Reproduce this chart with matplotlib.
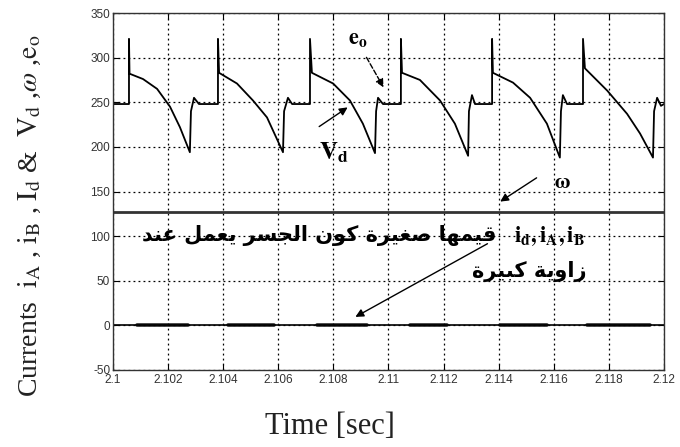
import matplotlib.pyplot as plt

plt.rcParams['mathtext.fontset'] = 'stix'
plt.rcParams['axes.unicode_minus'] = False

# Vd / eo trace (time [s], value)
t_v = [2.10000, 2.10058, 2.10058, 2.10060, 2.10109, 2.10160, 2.10207, 2.10243, 2.10279,
       2.10283, 2.10294, 2.10312, 2.10381,
       2.10381, 2.10385, 2.10450, 2.10508, 2.10559, 2.10617, 2.10621, 2.10635, 2.10650, 2.10715,
       2.10715, 2.10722, 2.10799, 2.10860, 2.10907, 2.10951, 2.10955, 2.10962, 2.10980, 2.11045,
       2.11045, 2.11049, 2.11114, 2.11187, 2.11241, 2.11289, 2.11292, 2.11303, 2.11314, 2.11376,
       2.11376, 2.11379, 2.11452, 2.11514, 2.11575, 2.11622, 2.11626, 2.11633, 2.11648, 2.11706,
       2.11706, 2.11713, 2.11794, 2.11866, 2.11913, 2.11960, 2.11964, 2.11975, 2.11989, 2.12000]
v = [248, 248, 321, 282, 276, 265, 245, 222, 194,
     240, 255, 248, 248,
     321, 283, 271, 252, 233, 194, 240, 255, 248, 248,
     321, 283, 271, 252, 226, 193, 240, 255, 248, 248,
     321, 283, 275, 252, 226, 190, 240, 258, 248, 248,
     321, 283, 272, 255, 226, 188, 240, 258, 248, 248,
     321, 288, 263, 237, 215, 188, 240, 255, 246, 248]

# speed line
omega = 127

# currents: flat zero with small ripple bursts
burst_start = [2.10087, 2.10417, 2.10740, 2.11078, 2.11405, 2.11720]
burst_end = [2.10272, 2.10584, 2.10922, 2.11212, 2.11575, 2.11949]

xticks = [2.1, 2.102, 2.104, 2.106, 2.108, 2.11, 2.112, 2.114, 2.116, 2.118, 2.12]
xlabels = ['2.1', '2.102', '2.104', '2.106', '2.108', '2.11', '2.112', '2.114', '2.116', '2.118', '2.12']
yticks = [-50, 0, 50, 100, 150, 200, 250, 300, 350]

# Arabic text in visual order (presentation forms), logical text:
# "قيمها صغيرة كون الجسر يعمل عند" / "زاوية كبيرة"
ar_line1 = ('\ufeaa\ufee8\ufecb \ufede\ufee4\ufecc\ufef3 \ufeae\ufeb4\ufea0\ufedf\ufe8d '
            '\ufee5\ufeee\ufedb \ufe93\ufeae\ufef4\ufed0\ufebb \ufe8e\ufeec\ufee4\ufef4\ufed7')
ar_line2 = '\ufe93\ufeae\ufef4\ufe92\ufedb \ufe94\ufef3\ufeed\ufe8d\ufeaf'

fig = plt.figure(figsize=(6.8, 4.47), dpi=100)
ax = fig.add_axes([113/680, 1 - 370/447, 551/680, 357/447])

ax.plot(t_v, v, color='black', lw=1.3)
ax.axhline(omega, color='#333333', lw=2.0)
ax.plot([2.1, 2.12], [0, 0], color='black', lw=1.2)
for s, e in zip(burst_start, burst_end):
    ax.plot([s, e], [0, 0], color='black', lw=2.6, alpha=0.85, solid_capstyle='round')

ax.set_xlim(2.1, 2.12)
ax.set_ylim(-50, 350)
ax.set_xticks(xticks)
ax.set_xticklabels(xlabels)
ax.set_yticks(yticks)
ax.grid(True, color='black', lw=0.9, linestyle=(0, (1.5, 2.5)))
ax.tick_params(direction='in', length=4, top=True, right=True,
               labelsize=8.5, labelcolor='#333333')
ax.tick_params(axis='x', pad=3)
ax.tick_params(axis='y', pad=2)
for lab in ax.get_xticklabels() + ax.get_yticklabels():
    lab.set_family('Liberation Sans')
for sp in ax.spines.values():
    sp.set_color('#333333')
    sp.set_linewidth(1.0)

# annotations
ax.text(2.1089, 320, r'$\mathbf{e_o}$', fontsize=16, ha='center', va='center')
ax.annotate('', xy=(2.10987, 264), xytext=(2.10915, 303),
            arrowprops=dict(arrowstyle='-|>', color='black', lw=1.0, linestyle='--',
                            mutation_scale=12))
ax.text(2.1080, 193, r'$\mathbf{V_d}$', fontsize=18, ha='center', va='center')
ax.annotate('', xy=(2.10860, 246), xytext=(2.10740, 221),
            arrowprops=dict(arrowstyle='-|>', color='black', lw=1.0, mutation_scale=12))
ax.text(2.1163, 161, r'$\mathbf{\omega}$', fontsize=15, ha='center', va='center')
ax.annotate('', xy=(2.11397, 137), xytext=(2.11546, 167),
            arrowprops=dict(arrowstyle='-|>', color='black', lw=1.0, mutation_scale=12))
ax.annotate('', xy=(2.10871, 8), xytext=(2.11368, 93),
            arrowprops=dict(arrowstyle='-|>', color='black', lw=1.0, mutation_scale=12))

ax.text(2.11713, 100, r'$\mathbf{i_d,i_A,i_B}$', fontsize=16, ha='right', va='center')
ax.text(2.11390, 101, ar_line1, fontsize=15, fontweight='bold', family=['DejaVu Sans'],
        ha='right', va='center')
ax.text(2.11720, 60, ar_line2, fontsize=15, fontweight='bold', family=['DejaVu Sans'],
        ha='right', va='center')

fig.text(30/680, 1 - 216/447,
         r'Currents  $\mathrm{i_A}$ , $\mathrm{i_B}$ , $\mathrm{I_d}$ &  $\mathrm{V_d}$ ,$\omega$ ,$\mathrm{e_o}$',
         rotation=90, ha='center', va='center', fontsize=20, family='Liberation Serif', color='#222222')
fig.text(330/680, 1 - 427/447, 'Time [sec]', ha='center', va='center',
         fontsize=22, family='Liberation Serif', color='#222222')

fig.savefig('out.png', dpi=100)
